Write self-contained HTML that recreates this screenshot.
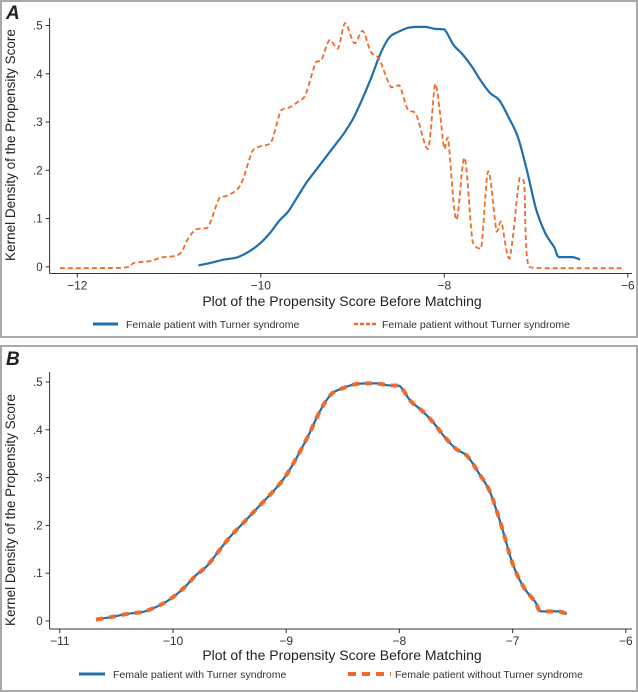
<!DOCTYPE html>
<html><head><meta charset="utf-8"><style>
body{margin:0;background:#fff;width:638px;height:692px;overflow:hidden;font-family:"Liberation Sans",sans-serif}
svg{display:block}
</style></head><body>
<svg id="chart" width="638" height="692" viewBox="0 0 638 692" xmlns="http://www.w3.org/2000/svg" font-family="Liberation Sans, sans-serif">
<rect x="1" y="1" width="636" height="336" fill="#fff" stroke="#a9a9a9" stroke-width="2"/>
<rect x="1" y="346" width="636" height="345" fill="#fff" stroke="#a9a9a9" stroke-width="2"/>
<g id="pa"></g>
<g id="pb"></g>
</svg>
<script>
const turnerX=[-10.68,-10.55,-10.4,-10.25,-10.1,-10.0,-9.9,-9.8,-9.7,-9.6,-9.5,-9.4,-9.3,-9.2,-9.1,-9.0,-8.9,-8.8,-8.7,-8.6,-8.5,-8.4,-8.3,-8.2,-8.1,-8.0,-7.9,-7.8,-7.7,-7.6,-7.5,-7.4,-7.3,-7.2,-7.1,-7.0,-6.9,-6.8,-6.75,-6.6,-6.52];
const turnerY=[0.003,0.008,0.015,0.02,0.035,0.05,0.07,0.095,0.115,0.145,0.175,0.2,0.225,0.25,0.275,0.305,0.345,0.39,0.44,0.475,0.487,0.495,0.497,0.497,0.493,0.492,0.46,0.44,0.415,0.385,0.36,0.345,0.31,0.27,0.2,0.12,0.07,0.04,0.02,0.02,0.015];
const nonTurnerX=[-12.19,-11.51,-11.38,-11.2,-11.09,-10.89,-10.8,-10.71,-10.58,-10.45,-10.36,-10.22,-10.09,-10.0,-9.89,-9.78,-9.69,-9.58,-9.51,-9.4,-9.34,-9.25,-9.16,-9.08,-8.98,-8.89,-8.8,-8.71,-8.58,-8.49,-8.4,-8.31,-8.18,-8.1,-8.05,-8.0,-7.96,-7.87,-7.78,-7.69,-7.6,-7.52,-7.43,-7.38,-7.29,-7.18,-7.13,-7.08,-6.85,-6.07];
const nonTurnerY=[-0.003,-0.002,0.008,0.012,0.019,0.026,0.056,0.077,0.081,0.143,0.148,0.17,0.24,0.25,0.257,0.324,0.33,0.344,0.358,0.424,0.428,0.47,0.452,0.505,0.463,0.489,0.445,0.43,0.372,0.376,0.327,0.317,0.244,0.379,0.324,0.244,0.268,0.097,0.226,0.052,0.038,0.198,0.073,0.094,0.017,0.184,0.174,0.0,-0.003,-0.003];
const yTicks=[0,0.1,0.2,0.3,0.4,0.5];
const yTickLabels=["0",".1",".2",".3",".4",".5"];
const xTicksA=[-12,-10,-8,-6];
const xTicksB=[-11,-10,-9,-8,-7,-6];
const NS="http://www.w3.org/2000/svg";
function mk(p,tag,a){const e=document.createElementNS(NS,tag);for(const k in a)e.setAttribute(k,a[k]);p.appendChild(e);return e;}
function clamp(v,a,b){const lo=Math.min(a,b),hi=Math.max(a,b);return Math.max(lo,Math.min(hi,v));}
function smoothPath(xs,ys,sx,sy){
  const P=xs.map((x,i)=>[sx(x),sy(ys[i])]);
  let d="M"+P[0][0].toFixed(1)+","+P[0][1].toFixed(1);
  for(let i=0;i<P.length-1;i++){
    const p0=P[Math.max(0,i-1)],p1=P[i],p2=P[i+1],p3=P[Math.min(P.length-1,i+2)];
    const c1=[p1[0]+(p2[0]-p0[0])/6,clamp(p1[1]+(p2[1]-p0[1])/6,p1[1],p2[1])];
    const c2=[p2[0]-(p3[0]-p1[0])/6,clamp(p2[1]-(p3[1]-p1[1])/6,p1[1],p2[1])];
    d+=" C"+c1[0].toFixed(1)+","+c1[1].toFixed(1)+" "+c2[0].toFixed(1)+","+c2[1].toFixed(1)+" "+p2[0].toFixed(1)+","+p2[1].toFixed(1);
  }
  return d;
}
function panel(g,cfg){
  const sx=v=>cfg.x0px+(v-cfg.x0)*cfg.xs;
  const sy=v=>cfg.y0px-v*cfg.ys;
  let t=mk(g,"text",{x:6,y:cfg.top+17,"font-size":19,"font-weight":"bold","font-style":"italic",fill:"#222"});t.textContent=cfg.label;
  
  
  let l=mk(g,"line",{x1:cfg.axL,y1:cfg.axTop,x2:cfg.axL,y2:cfg.axB,stroke:"#333","stroke-width":1});
  
  
  l=mk(g,"line",{x1:cfg.axL,y1:cfg.axB,x2:632,y2:cfg.axB,stroke:"#333","stroke-width":1});
  
  
  yTicks.forEach((v,i)=>{
    const y=sy(v);
    mk(g,"line",{x1:cfg.axL-4,y1:y,x2:cfg.axL,y2:y,stroke:"#333"});
    const tx=mk(g,"text",{x:cfg.axL-7,y:y+4,"font-size":11.5,"text-anchor":"end",fill:"#333"});tx.textContent=yTickLabels[i];
    
    
  });
  cfg.xt.forEach(v=>{
    const x=sx(v);
    mk(g,"line",{x1:x,y1:cfg.axB,x2:x,y2:cfg.axB+4,stroke:"#333"});
    const tx=mk(g,"text",{x:x,y:cfg.axB+16,"font-size":12,"text-anchor":"middle",fill:"#333"});tx.textContent="\u2212"+Math.abs(v);
    
    
  });
  let tt=mk(g,"text",{x:342,y:cfg.titleY,"font-size":14,"text-anchor":"middle",fill:"#222"});tt.textContent="Plot of the Propensity Score Before Matching";
  
  
  tt=mk(g,"text",{x:0,y:0,"font-size":13.5,"text-anchor":"middle",fill:"#222",transform:"translate(15,"+cfg.ytitleY+") rotate(-90)"});tt.textContent="Kernel Density of the Propensity Score";
  
  
  let p=mk(g,"path",{d:smoothPath(turnerX,turnerY,sx,sy),fill:"none",stroke:"#1f6fae","stroke-width":2.2});
  
  
  const ox=cfg.label==="A"?nonTurnerX:turnerX, oy=cfg.label==="A"?nonTurnerY:turnerY;
  p=mk(g,"path",{d:smoothPath(ox,oy,sx,sy),fill:"none",stroke:"#f06a2a","stroke-width":cfg.label==="A"?1.8:4,"stroke-dasharray":cfg.label==="A"?"5,3":"7,6"});
  
  
  const ly=cfg.legY;
  p=mk(g,"line",{x1:cfg.lg[0],y1:ly,x2:cfg.lg[1],y2:ly,stroke:"#1f6fae","stroke-width":3});
  
  
  tt=mk(g,"text",{x:cfg.lg[2],y:ly+4,"font-size":10.5,fill:"#333"});tt.textContent="Female patient with Turner syndrome";
  
  
  p=mk(g,"line",{x1:cfg.lg[3],y1:ly,x2:cfg.lg[4],y2:ly,stroke:"#f06a2a","stroke-width":cfg.label==="A"?2.5:4,"stroke-dasharray":cfg.label==="A"?"4,2":"8,6"});
  
  
  tt=mk(g,"text",{x:cfg.lg[5],y:ly+4,"font-size":10.5,fill:"#333"});tt.textContent="Female patient without Turner syndrome";
  
  
}
panel(document.getElementById("pa"),{label:"A",top:2,x0:-12,x0px:77.3,xs:91.75,y0px:266.8,ys:482.6,axL:49.6,axTop:18,axB:273.5,xt:xTicksA,titleY:306,ytitleY:145,legY:324,lg:[93,118,126,354,378,382]});
panel(document.getElementById("pb"),{label:"B",top:348,x0:-11,x0px:59.8,xs:113.2,y0px:621,ys:478,axL:49.6,axTop:372,axB:629,xt:xTicksB,titleY:660,ytitleY:510,legY:674,lg:[79,105,113,348,391,395]});
</script>
</body></html>
